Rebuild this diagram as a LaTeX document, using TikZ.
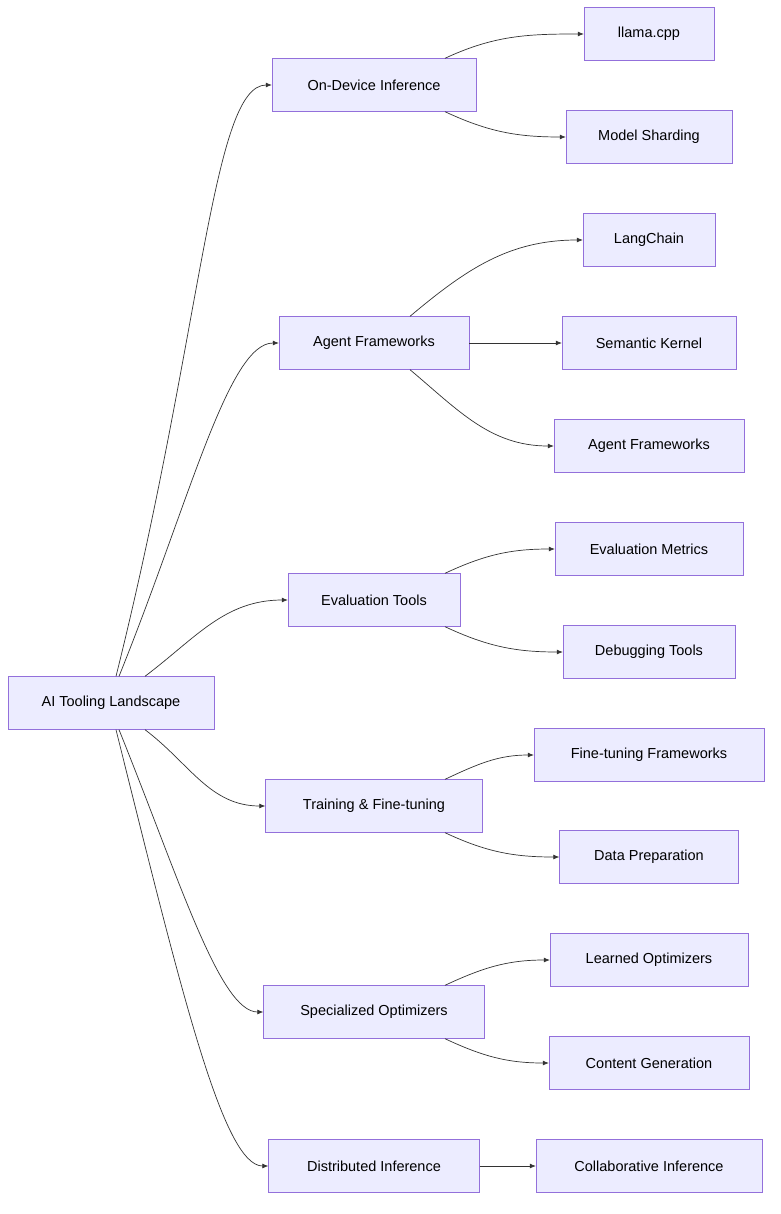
\documentclass[tikz,border=0pt]{standalone}
\usepackage{fontspec}
\setmainfont{Liberation Sans}
\usetikzlibrary{arrows.meta}
\definecolor{boxfill}{HTML}{ECECFF}
\definecolor{boxline}{HTML}{9370DB}
\definecolor{edgeline}{HTML}{333333}
\tikzset{
  topic/.style={draw=boxline,fill=boxfill,minimum height=53pt,inner xsep=0pt,font=\fontsize{14.5}{16}\selectfont},
  link/.style={draw=edgeline,-{Latex[length=6pt,width=5pt]},line width=0.7pt}
}
\begin{document}
\begin{tikzpicture}[x=1pt,y=-1pt]
    \useasboundingbox (0,0) rectangle (780,1214);

    \node[topic,minimum width=206pt](root) at (111,703) {AI Tooling Landscape};

    \node[topic,minimum width=204pt](ondev) at (374,85) {On-Device Inference};
    \node[topic,minimum width=190pt](agent) at (374,343) {Agent Frameworks};
    \node[topic,minimum width=172pt](evalt) at (374,600) {Evaluation Tools};
    \node[topic,minimum width=217pt](train) at (374,806) {Training \& Fine-tuning};
    \node[topic,minimum width=221pt](optim) at (374,1012) {Specialized Optimizers};
    \node[topic,minimum width=211pt](distr) at (374,1166) {Distributed Inference};

    \node[topic,minimum width=130pt](llama) at (649,34) {llama.cpp};
    \node[topic,minimum width=166pt](shard) at (649,137) {Model Sharding};
    \node[topic,minimum width=132pt](lang) at (649,240) {LangChain};
    \node[topic,minimum width=174pt](kern) at (649,343) {Semantic Kernel};
    \node[topic,minimum width=190pt](agent2) at (649,446) {Agent Frameworks};
    \node[topic,minimum width=188pt](metric) at (649,549) {Evaluation Metrics};
    \node[topic,minimum width=172pt](debug) at (649,652) {Debugging Tools};
    \node[topic,minimum width=230pt](ftfw) at (649,755) {Fine-tuning Frameworks};
    \node[topic,minimum width=179pt](prep) at (649,857) {Data Preparation};
    \node[topic,minimum width=198pt](learn) at (649,960) {Learned Optimizers};
    \node[topic,minimum width=200pt](gen) at (649,1063) {Content Generation};
    \node[topic,minimum width=226pt](collab) at (649,1166) {Collaborative Inference};

    % root to topics
    \draw[link] ([xshift=5pt]root.north) to[out=76,in=180,out looseness=1.5,in looseness=0.25] (ondev.west);
    \draw[link] ([xshift=8pt]root.north) to[out=68,in=180,out looseness=1.3,in looseness=0.35] (agent.west);
    \draw[link] ([xshift=34pt]root.north) to[out=37,in=180] (evalt.west);
    \draw[link] ([xshift=34pt]root.south) to[out=-37,in=180] (train.west);
    \draw[link] ([xshift=8pt]root.south) to[out=-68,in=180,out looseness=1.3,in looseness=0.35] (optim.west);
    \draw[link] ([xshift=5pt]root.south) to[out=-76,in=180,out looseness=1.5,in looseness=0.25] (distr.west);

    % topics to leaves
    \draw[link] ([xshift=71pt]ondev.north) to[out=25,in=180] (llama.west);
    \draw[link] ([xshift=71pt]ondev.south) to[out=-25,in=180] (shard.west);
    \draw[link] ([xshift=36pt]agent.north) to[out=40,in=180] (lang.west);
    \draw[link] (agent.east) -- (kern.west);
    \draw[link] ([xshift=36pt]agent.south) to[out=-40,in=180] (agent2.west);
    \draw[link] ([xshift=71pt]evalt.north) to[out=25,in=180] (metric.west);
    \draw[link] ([xshift=71pt]evalt.south) to[out=-25,in=180] (debug.west);
    \draw[link] ([xshift=71pt]train.north) to[out=25,in=180] (ftfw.west);
    \draw[link] ([xshift=71pt]train.south) to[out=-25,in=180] (prep.west);
    \draw[link] ([xshift=71pt]optim.north) to[out=25,in=180] (learn.west);
    \draw[link] ([xshift=71pt]optim.south) to[out=-25,in=180] (gen.west);
    \draw[link] (distr.east) -- (collab.west);
\end{tikzpicture}
\end{document}
